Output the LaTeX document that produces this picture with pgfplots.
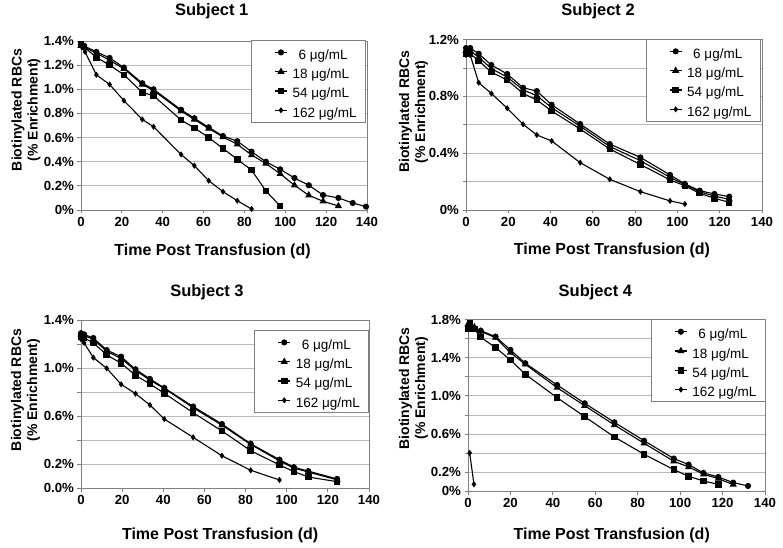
\documentclass[border=0pt]{standalone}
\usepackage{fontspec}
\setmainfont{Liberation Sans}
\usepackage{pgfplots}
\pgfplotsset{compat=1.18}
\definecolor{axgray}{RGB}{128,128,128}
\definecolor{gridgray}{RGB}{185,185,185}
\pgfplotsset{
  subj/.style={
    scale only axis, xmin=0, xmax=140, ymin=0,
    xtick={0,20,40,60,80,100,120,140},
    tick align=outside, tick pos=left, major tick length=3.5bp,
    ymajorgrids, grid style={draw=gridgray, line width=0.8bp},
    axis line style={draw=axgray, line width=0.9bp},
    every tick/.style={draw=axgray, line width=0.8bp},
    tick label style={font=\bfseries\fontsize{13.2bp}{13bp}\selectfont},
    /pgf/number format/assume math mode=true,
    title style={font=\bfseries\fontsize{16.5bp}{17bp}\selectfont, anchor=center},
    xlabel style={font=\bfseries\fontsize{16bp}{17bp}\selectfont, anchor=center},
    ylabel style={font=\bfseries\fontsize{14bp}{16bp}\selectfont, anchor=center, align=center},
    xlabel={Time Post Transfusion (d)},
    ylabel={Biotinylated RBCs\\(\% Enrichment)},
    legend style={draw=axgray, line width=0.8bp, fill=white,
      font=\fontsize{13.5bp}{14bp}\selectfont, anchor=north east,
      inner xsep=4bp, inner ysep=2.5bp, row sep=0.3bp,
      nodes={inner xsep=5bp, inner ysep=1.5bp, text height=15bp, text depth=1bp}},
    legend cell align=left,
    legend image code/.code={\draw[white, opacity=0] (0bp,-4bp) rectangle (31bp,4bp);
      \draw[mark repeat=2, mark phase=2, ##1] plot coordinates {(19bp,0bp) (25bp,0bp) (31bp,0bp)};},
  },
  s6/.style={black, line width=1.1bp, mark=*, mark size=2.5bp, mark options={solid, fill=black}},
  s18/.style={black, line width=1.1bp, mark=triangle*, mark size=3.1bp, mark options={solid, fill=black}},
  s54/.style={black, line width=1.1bp, mark=square*, mark size=2.7bp, mark options={solid, fill=black}},
  s162/.style={black, line width=1.1bp, mark=diamond*, mark size=2.2bp, mark options={solid, fill=black}},
}
\newcommand{\leg}{\legend{\hspace{6bp}6 μg/mL, 18 μg/mL, 54 μg/mL, 162 μg/mL}}
\begin{document}
\begin{tikzpicture}
\useasboundingbox (0,0) rectangle (783bp,548bp);
% ---------------- Subject 1
\begin{axis}[subj, at={(81bp,338bp)}, anchor=south west, width=286bp, height=169bp,
  ymax=1.4, ytick={0,0.2,0.4,0.6,0.8,1.0,1.2,1.4},
  yticklabels={0\%,0.2\%,0.4\%,0.6\%,0.8\%,1.0\%,1.2\%,1.4\%},
  title={Subject 1}, title style={at={(axis description cs:0.457,1.142)}},
  xlabel style={at={(axis description cs:0.46,-0.2426)}},
  ylabel style={at={(axis description cs:-0.1923,0.592)}},
  legend style={at={(axis description cs:0.9965,1.006)}}]
\addplot[s6] coordinates {(0,1.37) (1.5,1.36) (7.5,1.31) (14,1.26) (21,1.18) (30,1.05) (35.5,1.0) (49,0.83) (55.5,0.76) (62.5,0.685) (69.5,0.613) (76.5,0.57) (83.5,0.483) (90.5,0.40) (97.5,0.337) (104.5,0.265) (111.5,0.205) (118.5,0.124) (126,0.10) (133,0.058) (139.5,0.028)};
\addplot[s18] coordinates {(0,1.36) (1.5,1.35) (7.5,1.30) (14,1.24) (21,1.17) (30,1.04) (35.5,0.99) (49,0.82) (55.5,0.75) (62.5,0.675) (69.5,0.605) (76.5,0.544) (83.5,0.456) (90.5,0.385) (97.5,0.30) (104.5,0.205) (111.5,0.122) (118.5,0.072) (126,0.033)};
\addplot[s54] coordinates {(0,1.37) (1.5,1.35) (7.5,1.265) (14,1.20) (21,1.12) (30,0.975) (35.5,0.947) (49,0.745) (55.5,0.68) (62.5,0.60) (69.5,0.51) (76.5,0.42) (83.5,0.33) (90.5,0.158) (97.5,0.033)};
\addplot[s162] coordinates {(0,1.36) (2,1.31) (7.5,1.12) (14,1.04) (21,0.906) (30,0.75) (35.5,0.69) (49,0.46) (55.5,0.367) (62.5,0.243) (69.5,0.152) (76.5,0.077) (83.5,0.008)};
\leg
\end{axis}
% ---------------- Subject 2
\begin{axis}[subj, at={(466bp,338bp)}, anchor=south west, width=296bp, height=170.5bp,
  ymax=1.2, ytick={0,0.2,0.4,0.6,0.8,1.0,1.2},
  yticklabels={0\%,{},0.4\%,{},0.8\%,{},1.2\%},
  title={Subject 2}, title style={at={(axis description cs:0.446,1.132)}},
  xlabel style={at={(axis description cs:0.493,-0.2346)}},
  ylabel style={at={(axis description cs:-0.1774,0.5765)}},
  legend style={at={(axis description cs:0.9956,1.003)}}]
\addplot[s6] coordinates {(0,1.14) (2,1.14) (6,1.10) (12,1.02) (19.5,0.957) (27,0.86) (33.5,0.837) (40.5,0.741) (54,0.605) (68,0.464) (82.5,0.37) (96.5,0.247) (103.5,0.184) (110.5,0.136) (117.5,0.113) (124.5,0.094)};
\addplot[s18] coordinates {(0,1.12) (2,1.12) (6,1.075) (12,0.995) (19.5,0.935) (27,0.845) (33.5,0.805) (40.5,0.72) (54,0.59) (68,0.447) (82.5,0.347) (96.5,0.23) (103.5,0.178) (110.5,0.128) (117.5,0.098) (124.5,0.075)};
\addplot[s54] coordinates {(0,1.10) (2,1.10) (6,1.05) (12,0.97) (19.5,0.915) (27,0.82) (33.5,0.774) (40.5,0.697) (54,0.57) (68,0.429) (82.5,0.32) (96.5,0.212) (103.5,0.17) (110.5,0.118) (117.5,0.082) (124.5,0.054)};
\addplot[s162] coordinates {(0,1.09) (2,1.09) (6,0.896) (12,0.82) (19.5,0.716) (27,0.603) (33.5,0.528) (40.5,0.486) (54,0.333) (68,0.216) (82.5,0.129) (96.5,0.064) (103.5,0.042)};
\leg
\end{axis}
% ---------------- Subject 3
\begin{axis}[subj, at={(81bp,59.7bp)}, anchor=south west, width=288bp, height=168.3bp,
  ymax=1.4, ytick={0,0.2,0.4,0.6,0.8,1.0,1.2,1.4},
  yticklabels={0.0\%,0.2\%,{},0.6\%,{},1.0\%,{},1.4\%},
  title={Subject 3}, title style={at={(axis description cs:0.4375,1.131)}},
  xlabel style={at={(axis description cs:0.483,-0.2775)}},
  ylabel style={at={(axis description cs:-0.1927,0.584)}},
  legend style={at={(axis description cs:1.001,0.9406)}}]
\addplot[s6] coordinates {(0,1.29) (1.5,1.28) (6,1.25) (12.5,1.15) (19.5,1.095) (26.5,0.99) (33.5,0.91) (40.5,0.835) (54.5,0.68) (68.5,0.535) (82.5,0.37) (96.5,0.238) (103.5,0.175) (110.5,0.143) (124.5,0.078)};
\addplot[s18] coordinates {(0,1.28) (1.5,1.27) (6,1.24) (12.5,1.14) (19.5,1.08) (26.5,0.98) (33.5,0.90) (40.5,0.83) (54.5,0.67) (68.5,0.525) (82.5,0.365) (96.5,0.228) (103.5,0.168) (110.5,0.135) (124.5,0.07)};
\addplot[s54] coordinates {(0,1.26) (1.5,1.25) (6,1.21) (12.5,1.11) (19.5,1.04) (26.5,0.94) (33.5,0.868) (40.5,0.79) (54.5,0.629) (68.5,0.477) (82.5,0.313) (96.5,0.194) (103.5,0.139) (110.5,0.094) (124.5,0.055)};
\addplot[s162] coordinates {(0,1.24) (1.5,1.21) (6,1.087) (12.5,0.998) (19.5,0.865) (26.5,0.787) (33.5,0.693) (40.5,0.576) (54.5,0.424) (68.5,0.271) (82.5,0.15) (96.5,0.069)};
\leg
\end{axis}
% ---------------- Subject 4
\begin{axis}[subj, at={(468bp,56.7bp)}, anchor=south west, width=297bp, height=171.8bp,
  ymax=1.8, ytick={0,0.2,0.4,0.6,0.8,1.0,1.2,1.4,1.6,1.8},
  yticklabels={0\%,0.2\%,{},0.6\%,{},1.0\%,{},1.4\%,{},1.8\%},
  title={Subject 4}, title style={at={(axis description cs:0.429,1.125)}},
  xlabel style={at={(axis description cs:0.484,-0.2544)}},
  ylabel style={at={(axis description cs:-0.1835,0.5995)}},
  legend style={at={(axis description cs:1.003,1.001)}}]
\addplot[s6] coordinates {(0,1.72) (1,1.73) (3,1.71) (6,1.683) (13,1.62) (20,1.481) (27,1.342) (42,1.114) (55,0.922) (69,0.723) (83,0.53) (97,0.343) (104,0.28) (111,0.192) (118,0.15) (125,0.091) (132,0.056)};
\addplot[s18] coordinates {(0,1.75) (1,1.74) (3,1.72) (6,1.675) (13,1.61) (20,1.453) (27,1.33) (42,1.086) (55,0.897) (69,0.695) (83,0.503) (97,0.315) (104,0.255) (111,0.178) (118,0.133) (125,0.07)};
\addplot[s54] coordinates {(0,1.70) (1,1.76) (3,1.70) (6,1.614) (13,1.505) (20,1.376) (27,1.226) (42,0.981) (55,0.782) (69,0.569) (83,0.388) (97,0.227) (104,0.157) (111,0.108) (118,0.073)};
\addplot[s162] coordinates {(0.8,0.402) (2.8,0.073)};
\leg
\end{axis}
\end{tikzpicture}
\end{document}
